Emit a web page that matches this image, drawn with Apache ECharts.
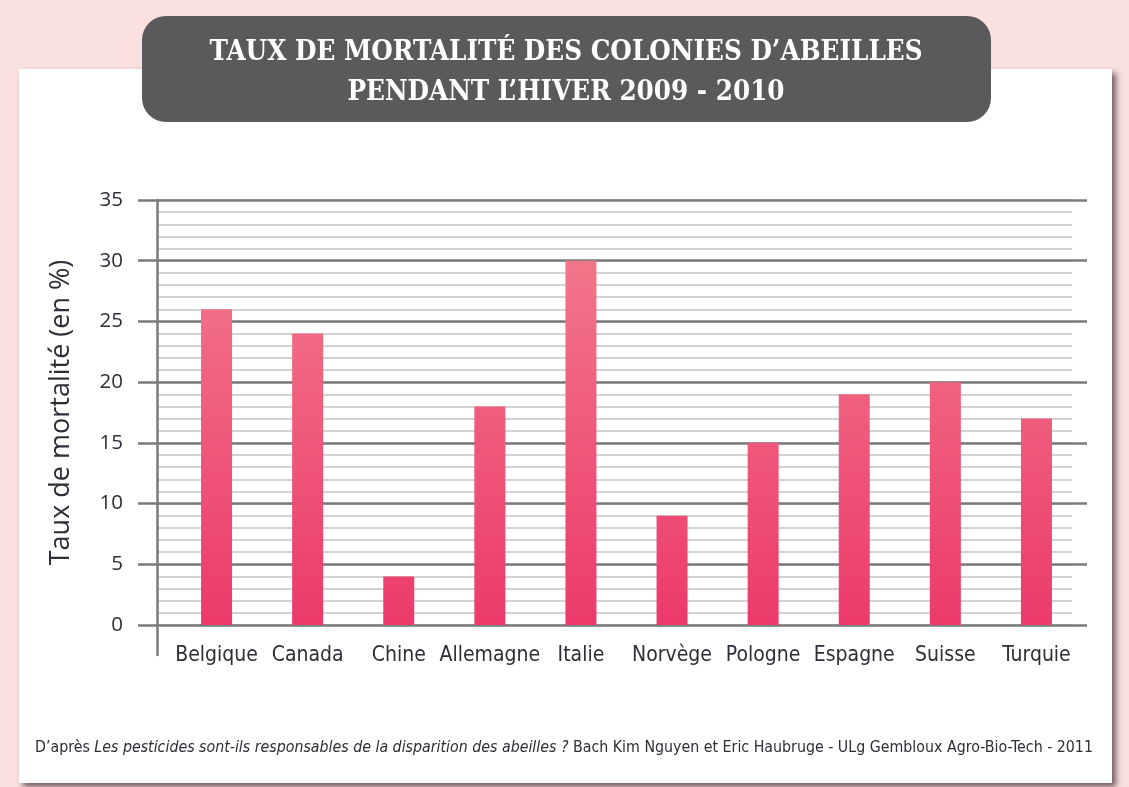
<!DOCTYPE html>
<html>
<head>
<meta charset="utf-8">
<script src="https://cdn.jsdelivr.net/npm/echarts@6/dist/echarts.min.js"></script>
<style>
  html, body { margin: 0; padding: 0; background: #fbe0e0; }
  #chart { width: 1129px; height: 787px; }
</style>
</head>
<body>
<div id="chart"></div>
<script>
// Winter 2009-2010 honeybee colony mortality by country (%)
const countries = ['Belgique', 'Canada', 'Chine', 'Allemagne', 'Italie', 'Norvège', 'Pologne', 'Espagne', 'Suisse', 'Turquie'];
const mortality = [26, 24, 4, 18, 30, 9, 15, 19, 20, 17];
const yTicks = [0, 5, 10, 15, 20, 25, 30, 35];

const titleLines = ['TAUX DE MORTALITÉ DES COLONIES D’ABEILLES', 'PENDANT L’HIVER 2009 - 2010'];
const yName = 'Taux de mortalité (en %)';
const sourcePrefix = 'D’après ';
const sourceWork = 'Les pesticides sont-ils responsables de la disparition des abeilles ?';
const sourceAuthors = ' Bach Kim Nguyen et Eric Haubruge - ULg Gembloux Agro-Bio-Tech - 2011';

const yMin = yTicks[0];
const yMax = yTicks[yTicks.length - 1];
const yStep = yTicks[1] - yTicks[0];

const PLOT_TOP = 200, PLOT_BOTTOM = 162;
const textDark = '#2e2e36';
const narrow = '"Liberation Sans Narrow", "DejaVu Sans Condensed", sans-serif';

const chart = echarts.init(document.getElementById('chart'), null, { renderer: 'canvas' });

// shared vertical gradient, fixed to the plot area so taller bars reach lighter pink
const barFill = new echarts.graphic.LinearGradient(0, PLOT_TOP, 0, 787 - PLOT_BOTTOM, [
  { offset: 0, color: '#f3808f' },
  { offset: 1, color: '#ec3a6a' }
], true);

const hiddenValueAxis = (gridIndex) => ({
  type: 'value', gridIndex, min: yMin, max: yMax,
  axisLine: { show: false }, axisTick: { show: false },
  axisLabel: { show: false }, splitLine: { show: false }
});

chart.setOption({
  backgroundColor: '#fbe0e0',
  animation: false,
  graphic: [
    // white card with soft drop shadow
    {
      type: 'rect', z: -10, silent: true,
      shape: { x: 19, y: 69, width: 1093, height: 714 },
      style: { fill: '#ffffff', shadowColor: 'rgba(70,50,55,0.75)', shadowBlur: 6, shadowOffsetX: 4, shadowOffsetY: 4 }
    },
    // dark rounded banner behind the title
    {
      type: 'rect', z: 5, silent: true,
      shape: { x: 142, y: 16, width: 849, height: 106, r: 24 },
      style: { fill: '#5a5a5c' }
    },
    {
      type: 'text', z: 6, silent: true,
      x: 566, y: 73,
      style: {
        text: titleLines.join('\n'),
        fill: '#ffffff',
        font: 'bold 27.5px "DejaVu Serif Condensed", "DejaVu Serif", serif',
        align: 'center', verticalAlign: 'middle', lineHeight: 40
      }
    },
    // source line with the book title in italics
    {
      type: 'text', z: 6, silent: true,
      x: 35, y: 748,
      style: {
        text: '{r|' + sourcePrefix + '}{i|' + sourceWork + '}{r|' + sourceAuthors + '}',
        verticalAlign: 'middle',
        rich: {
          r: { font: '15.8px ' + narrow, fill: '#2e2e36' },
          i: { font: 'italic 15.8px ' + narrow, fill: '#2e2e36' }
        }
      }
    }
  ],
  grid: [
    // 0: bars
    { left: 171, right: 47, top: PLOT_TOP, bottom: PLOT_BOTTOM },
    // 1: light unit lines
    { left: 158, right: 57, top: PLOT_TOP, bottom: PLOT_BOTTOM },
    // 2: dark lines every 5 with tick labels
    { left: 157, right: 42, top: PLOT_TOP, bottom: PLOT_BOTTOM },
    // 3: vertical axis line, running below the zero line
    { left: 157, right: 42, top: PLOT_TOP, bottom: 132 }
  ],
  xAxis: [
    {
      type: 'category', gridIndex: 0, data: countries,
      axisLine: { show: false }, axisTick: { show: false },
      axisLabel: { interval: 0, margin: 20, color: textDark, fontSize: 21, fontFamily: narrow }
    },
    { type: 'value', gridIndex: 1, show: false },
    { type: 'value', gridIndex: 2, show: false },
    { type: 'value', gridIndex: 3, show: false }
  ],
  yAxis: [
    hiddenValueAxis(0),
    {
      type: 'value', gridIndex: 1, min: yMin, max: yMax, interval: 1, z: 0,
      axisLine: { show: false }, axisTick: { show: false }, axisLabel: { show: false },
      splitLine: { show: true, lineStyle: { color: '#d2d2d2', width: 2 } }
    },
    {
      type: 'value', gridIndex: 2, min: yMin, max: yMax, interval: yStep, z: 1,
      name: yName, nameLocation: 'middle', nameGap: 82, nameRotate: 90,
      nameTextStyle: { color: textDark, fontSize: 27, fontFamily: '"Open Sans", sans-serif' },
      axisLine: { show: false },
      axisTick: { show: true, length: 19, lineStyle: { color: '#7a7a7a', width: 2.5 } },
      axisLabel: { margin: 34, color: textDark, fontSize: 20.5, fontFamily: '"Open Sans", sans-serif' },
      splitLine: { show: true, lineStyle: { color: '#7a7a7a', width: 2.5 } }
    },
    {
      type: 'value', gridIndex: 3, min: 0, max: 1, z: 1,
      axisLine: { show: true, lineStyle: { color: '#7a7a7a', width: 2.5 } },
      axisTick: { show: false }, axisLabel: { show: false }, splitLine: { show: false }
    }
  ],
  series: [
    {
      type: 'bar', xAxisIndex: 0, yAxisIndex: 0, z: 3,
      data: mortality,
      barWidth: 31,
      itemStyle: { color: barFill }
    }
  ]
});
</script>
</body>
</html>
